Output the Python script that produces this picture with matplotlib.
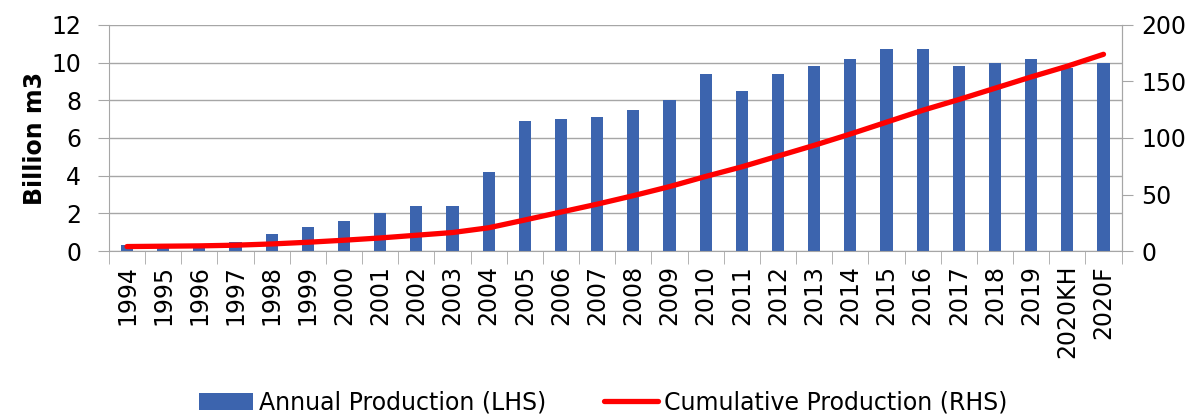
import matplotlib
matplotlib.use("Agg")
import matplotlib.pyplot as plt
import numpy as np

years = ["1994", "1995", "1996", "1997", "1998", "1999", "2000", "2001", "2002",
         "2003", "2004", "2005", "2006", "2007", "2008", "2009", "2010", "2011",
         "2012", "2013", "2014", "2015", "2016", "2017", "2018", "2019",
         "2020KH", "2020F"]
annual = [0.3, 0.2, 0.2, 0.5, 0.9, 1.3, 1.6, 2.0, 2.4, 2.4, 4.2, 6.9, 7.0, 7.1,
          7.5, 8.0, 9.4, 8.5, 9.4, 9.8, 10.2, 10.7, 10.7, 9.8, 10.0, 10.2, 9.7, 10.0]
cumulative = [4, 4.3, 4.6, 5.2, 6.3, 7.8, 9.6, 11.6, 14.0, 16.4, 20.6, 27.5, 34.5,
              41.5, 49, 57, 66, 74.5, 84, 93.5, 103.5, 114, 124.5, 134, 144,
              154, 163.5, 174]

BAR_C = "#3C64AE"
GRID_C = "#A6A6A6"
FS = 17
plt.rcParams["font.family"] = "DejaVu Sans"

fig = plt.figure(figsize=(11.97, 4.15), dpi=100)
ax = fig.add_axes([0.091, 0.395, 0.846, 0.545])
x = np.arange(len(years))

bars = ax.bar(x, annual, width=0.34, color=BAR_C, zorder=2)
ax.set_xlim(-0.5, len(years) - 0.5)
ax.set_ylim(0, 12)
ax.set_yticks(range(0, 13, 2))
ax.grid(axis="y", color=GRID_C, lw=1, zorder=0)
ax.set_axisbelow(True)
ax.spines["top"].set_visible(False)
for s in ("left", "bottom", "right"):
    ax.spines[s].set_color(GRID_C)
ax.tick_params(axis="y", length=8, color=GRID_C, labelsize=FS, pad=12)

# category labels centred, tick marks between categories
ax.set_xticks(x)
ax.set_xticklabels(years, rotation=90, fontsize=FS)
ax.tick_params(axis="x", length=0, pad=10)
ax.set_xticks(np.arange(-0.5, len(years), 1), minor=True)
ax.tick_params(axis="x", which="minor", length=9, color=GRID_C)
ax.set_ylabel("Billion m3", fontsize=FS, fontweight="bold", labelpad=3)

ax2 = ax.twinx()
line, = ax2.plot(x, cumulative, color="#FF0000", lw=3.8, zorder=3,
                 solid_capstyle="round")
ax2.set_ylim(0, 200)
ax2.set_yticks(range(0, 201, 50))
for s in ("top", "left", "bottom"):
    ax2.spines[s].set_visible(False)
ax2.spines["right"].set_color(GRID_C)
ax2.tick_params(axis="y", length=8, color=GRID_C, labelsize=FS, pad=6)

fig.legend([bars, line], ["Annual Production (LHS)", "Cumulative Production (RHS)"],
           loc="center", bbox_to_anchor=(0.504, 0.03), ncol=2, frameon=False,
           fontsize=FS, handlelength=2.3, handletextpad=0.25, columnspacing=2.45)

fig.savefig("out.png", dpi=100)
